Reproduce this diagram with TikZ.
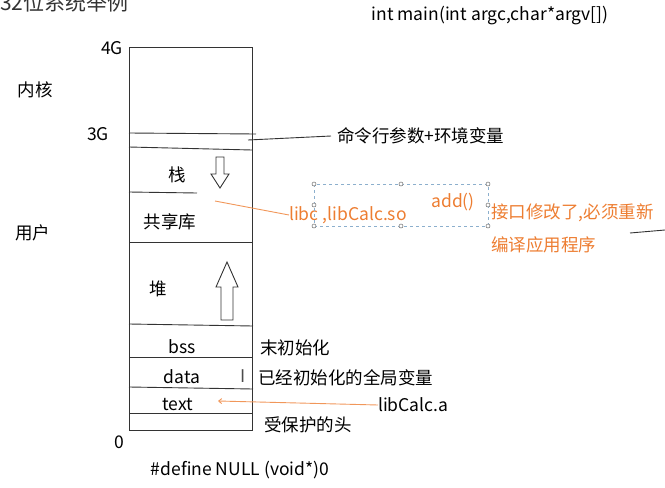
\documentclass[tikz,border=0pt]{standalone}
\usepackage{fontspec}
\setmainfont{Noto Sans CJK SC}
\usetikzlibrary{arrows.meta}
\definecolor{orng}{RGB}{237,125,49}
\definecolor{selblue}{RGB}{140,175,205}
\tikzset{
  lbl/.style={inner sep=0pt, font=\fontsize{17.5}{20}\selectfont},
  olbl/.style={lbl, text=orng},
  seg/.style={line width=0.9pt, black!80},
  hollow/.style={draw=black!80, line width=0.9pt, fill=white},
  olink/.style={draw=orng!80, line width=0.9pt},
  handle/.style={circle, draw=black!60, fill=white, inner sep=0pt, minimum size=4pt, line width=0.5pt}
}
\begin{document}
\begin{tikzpicture}[x=1pt,y=-1pt]
\useasboundingbox (0,0) rectangle (665,488);
% title (clipped at top, as in the reference)
\node[lbl, anchor=west, text=black!80, font=\fontsize{21}{24}\selectfont] (title) at (0,2) {32位系统举例};
\node[lbl, anchor=center] (mainsig) at (490,16) {int main(int argc,char*argv[])};
% side labels
\node[lbl] (g4) at (112,48) {4G};
\node[lbl] (g3) at (98,134) {3G};
\node[lbl] (z0) at (119,442) {0};
\node[lbl] (kern) at (35,90) {内核};
\node[lbl] (user) at (33,233) {用户};
% memory box
\draw[seg] (129,47) rectangle (252,430);
\draw[seg] (129,133) -- (256,134);
\draw[seg] (129,147) -- (252,150);
\draw[seg] (129,192) -- (197,193);
\draw[seg] (129,242) -- (253,242);
\draw[seg] (129,324) -- (253,326);
\draw[seg] (129,357) -- (253,357);
\draw[seg] (129,387) -- (253,389);
\draw[seg] (129,413) -- (253,413);
% section labels
\node[lbl] (stack) at (177,175) {栈};
\node[lbl] (shlib) at (170,222) {共享库};
\node[lbl] (heap) at (158,289) {堆};
\node[lbl] (bss) at (182,347) {bss};
\node[lbl] (data) at (182,377) {data};
\node[lbl] (text) at (178,405) {text};
% hollow arrows
\draw[hollow] (216,157) -- (224,157) -- (224,174) -- (229,174) -- (220,188) -- (211,174) -- (216,174) -- cycle;
\draw[hollow] (221,320) -- (233,320) -- (233,287) -- (238,287) -- (227,262) -- (216,287) -- (221,287) -- cycle;
% right labels
\node[lbl, anchor=west] (cmd) at (337,136) {命令行参数+环境变量};
\node[lbl, anchor=west] (uninit) at (260,348) {末初始化};
\node[lbl, anchor=west] (init) at (258,378) {已经初始化的全局变量};
\node[lbl, anchor=west] (prot) at (264,425) {受保护的头};
\node[lbl, anchor=west] (libA) at (378,405) {libCalc.a};
\node[lbl] (nulldef) at (240,470) {\#define NULL (void*)0};
\node[lbl, text=black!70] (cursor) at (243,376) {I};
% orange labels
\node[olbl, anchor=west] (libso) at (289,215) {libc ,libCalc.so};
\node[olbl] (addf) at (453,202) {add()};
\node[olbl, anchor=west] (iface) at (491,213) {接口修改了,必须重新};
\node[olbl, anchor=west] (recomp) at (491,245) {编译应用程序};
% selection box
\draw[selblue, dashed, line width=0.6pt] (314,184) rectangle (488,226);
\foreach \p in {(314,184),(401,184),(488,184),(314,205),(488,205),(314,226),(401,226),(488,226)}
  \node[handle] at \p {};
% connectors
\coordinate (cmdend) at (248,140);
\draw[seg] (cmdend) -- ([xshift=-6pt]cmd.west);
\coordinate (shlibpt) at (215,201);
\draw[olink] (shlibpt) -- (libso.west);
\coordinate (textpt) at (218,401);
\draw[olink, -{Straight Barb[length=3pt,width=5pt]}] (libA.west) -- (textpt);
\coordinate (strayA) at (630,233);
\coordinate (strayB) at (665,230);
\draw[seg] (strayA) -- (strayB);
\end{tikzpicture}
\end{document}
